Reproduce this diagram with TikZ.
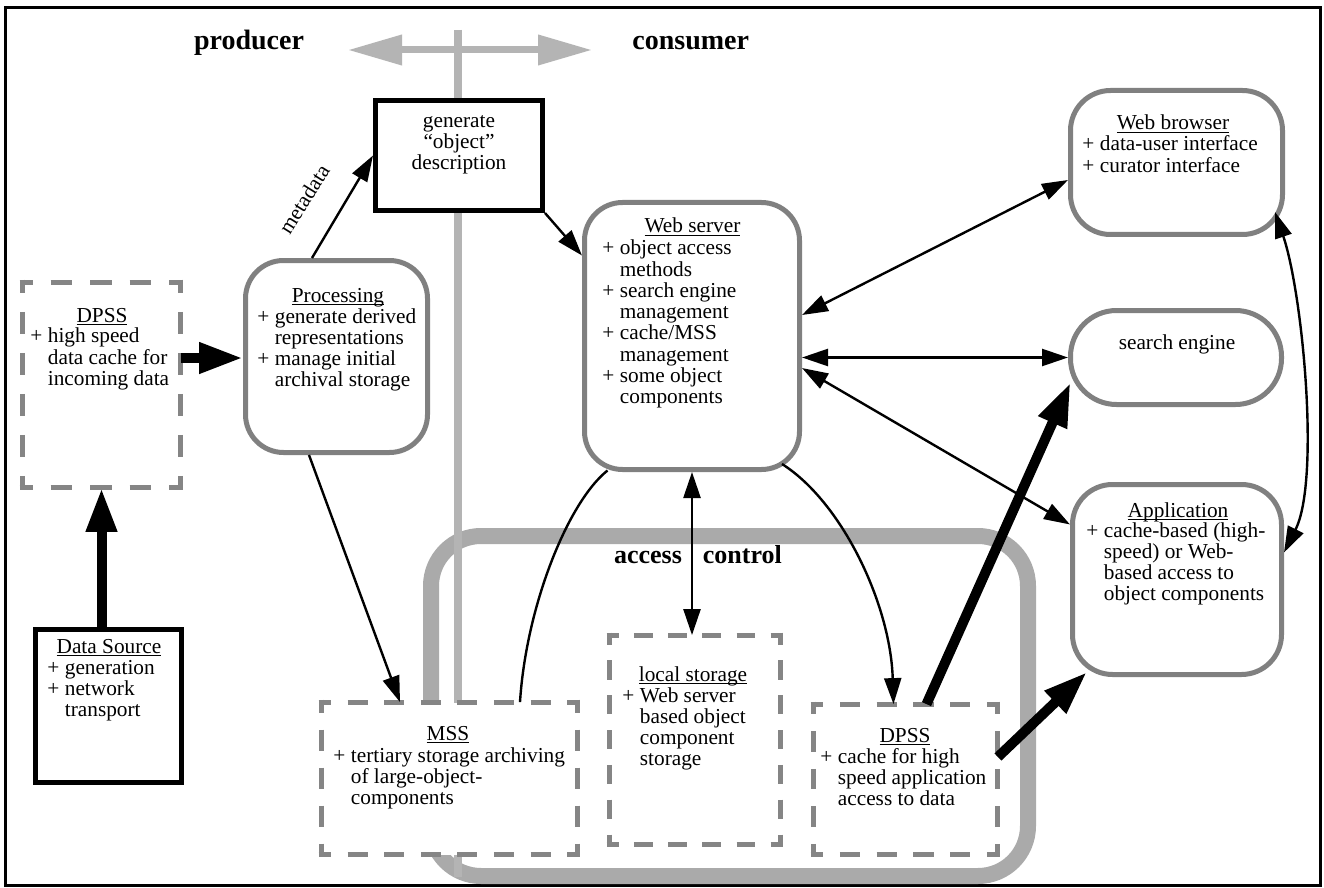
\documentclass[tikz,border=0pt]{standalone}
\usepackage{fontspec}
\setmainfont{Liberation Serif}
\usetikzlibrary{arrows.meta,calc}
\definecolor{boxgray}{HTML}{808080}
\definecolor{dashgray}{HTML}{858585}
\definecolor{accgray}{HTML}{AAAAAA}
\definecolor{axisgray}{HTML}{B4B4B4}
\newcommand\pl{\makebox[8.75pt][l]{+}}
\newcommand\ind{\hspace*{8.75pt}}
\newcommand\ul[1]{\underline{\smash{#1}}}
\newcommand\bodyfont{\fontsize{10.65pt}{10.625pt}\selectfont}
\newcommand\dframe[7]{%
  \draw[dside={#2}{#3}{#4}] (#1.north west) -- (#1.north east);
  \draw[dside={#2}{#3}{#4}] (#1.south west) -- (#1.south east);
  \draw[dside={#5}{#6}{#7}] (#1.north west) -- (#1.south west);
  \draw[dside={#5}{#6}{#7}] (#1.north east) -- (#1.south east);}
\begin{document}
\begin{tikzpicture}[x=0.5pt,y=-0.5pt,
  rbox/.style={draw=boxgray, line width=2.5pt, fill=white, inner sep=0pt, rounded corners=#1},
  rbox/.default=19pt,
  bbox/.style={draw=black, line width=2.5pt, fill=white, inner sep=0pt},
  dbox/.style={fill=white, inner sep=0pt},
  dside/.style n args={3}{draw=dashgray, line width=2.5pt, dash pattern=on #1pt off #2pt, dash phase=#3pt, shorten <=-1.25pt, shorten >=-1.25pt},
  ttl/.style={font=\bodyfont, inner sep=0pt, anchor=base},
  body/.style={font=\bodyfont, inner sep=0pt, anchor=base west},
  head/.style={font=\fontsize{14pt}{16pt}\selectfont\bfseries, inner sep=0pt},
  conn/.style={line width=1.2pt, >={Triangle[length=13pt,width=8.5pt]}},
  fat/.style={line width=5pt, -{Triangle[length=22pt,width=14.5pt]}},
  ]
\useasboundingbox (0,0) rectangle (1324,888);
\fill[white] (0,0) rectangle (1324,888);
\draw[line width=1.5pt] (5,8) rectangle (1320.5,885);

% background structure
\draw[accgray, line width=8pt, rounded corners=25pt] (431,536) rectangle (1028,876);
\draw[axisgray, line width=3.75pt] (458,30) -- (458,877);
\draw[axisgray, line width=3.5pt, {Triangle[length=27pt,width=14.5pt]}-{Triangle[length=27pt,width=14.5pt]}] (348,50) -- (592,50);

% boxes
\node[bbox, minimum width=83.5pt, minimum height=55pt] (gen) at (459,155.5) {};
\node[bbox, minimum width=73pt, minimum height=76.5pt] (ds) at (108.5,706) {};
\node[dbox, minimum width=79pt, minimum height=102.5pt] (dpssL) at (101.5,385) {};
\node[rbox, minimum width=91pt, minimum height=96pt] (proc) at (336.5,356.5) {};
\node[rbox, minimum width=107.5pt, minimum height=133.5pt] (ws) at (692,336) {};
\node[rbox=20pt, minimum width=106pt, minimum height=72pt] (wb) at (1176.5,162.5) {};
\node[rbox=23pt, minimum width=105.5pt, minimum height=47pt] (se) at (1176,357.5) {};
\node[rbox=20pt, minimum width=104.5pt, minimum height=95pt] (app) at (1177,579.5) {};
\node[dbox, minimum width=128pt, minimum height=76pt] (mss) at (449.5,778.5) {};
\node[dbox, minimum width=85.5pt, minimum height=104.5pt] (loc) at (695,740) {};
\node[dbox, minimum width=92pt, minimum height=75pt] (dpssR) at (905.5,779.5) {};

\dframe{dpssL}{10.86}{8.89}{4.18}{11.28}{9.22}{4.39}
\dframe{mss}{10.06}{8.23}{3.78}{10.45}{8.55}{3.98}
\dframe{loc}{9.41}{7.69}{3.45}{9.58}{7.84}{3.54}
\dframe{dpssR}{10.12}{8.28}{3.81}{10.31}{8.44}{3.91}

% headings
\node[head, anchor=base] (prod) at (249,50) {producer};
\node[head, anchor=base west] (cons) at (632,50) {consumer};
\node[font=\fontsize{13pt}{15pt}\selectfont\bfseries, inner sep=0pt, anchor=base] (acc) at (698,563) {access\hspace*{10.5pt}control};

% texts
\node[ttl] (genT) at (459,128) {{\renewcommand\arraystretch{0.94}\begin{tabular}[t]{@{}c@{}}generate\\“object”\\description\end{tabular}}};

\node[ttl] (dsT) at (109,653) {\ul{Data Source}};
\node[body] (dsB) at (47,674) {\begin{tabular}[t]{@{}l@{}}\pl generation\\\pl network\\\ind transport\end{tabular}};

\node[ttl] (dpssLT) at (102,322) {\ul{DPSS}};
\node[body] (dpssLB) at (30,343) {\begin{tabular}[t]{@{}l@{}}\pl high speed\\\ind data cache for\\\ind incoming data\end{tabular}};

\node[ttl] (procT) at (338,302) {\ul{Processing}};
\node[body] (procB) at (257,323) {\begin{tabular}[t]{@{}l@{}}\pl generate derived\\\ind representations\\\pl manage initial\\\ind archival storage\end{tabular}};

\node[ttl] (wsT) at (692.5,233) {\ul{Web server}};
\node[body] (wsB) at (602,255) {\begin{tabular}[t]{@{}l@{}}\pl object access\\\ind methods\\\pl search engine\\\ind management\\\pl cache/MSS\\\ind management\\\pl some object\\\ind components\end{tabular}};

\node[ttl] (wbT) at (1173,130) {\ul{Web browser}};
\node[body] (wbB) at (1082,151) {\begin{tabular}[t]{@{}l@{}}\pl data-user interface\\\pl curator interface\end{tabular}};

\node[ttl] (seT) at (1177,349) {search engine};

\node[ttl] (appT) at (1178,517) {\ul{Application}};
\node[body] (appB) at (1086,537) {\begin{tabular}[t]{@{}l@{}}\pl cache-based (high-\\\ind speed) or Web-\\\ind based access to\\\ind object components\end{tabular}};

\node[ttl] (mssT) at (448,740) {\ul{MSS}};
\node[body] (mssB) at (333,762) {\begin{tabular}[t]{@{}l@{}}\pl tertiary storage archiving\\\ind of large-object-\\\ind components\end{tabular}};

\node[ttl] (locT) at (693,681) {\ul{local storage}};
\node[body] (locB) at (622,702) {\begin{tabular}[t]{@{}l@{}}\pl Web server\\\ind based object\\\ind component\\\ind storage\end{tabular}};

\node[ttl] (dpssRT) at (905,742) {\ul{DPSS}};
\node[body] (dpssRB) at (820,763) {\begin{tabular}[t]{@{}l@{}}\pl cache for high\\\ind speed application\\\ind access to data\end{tabular}};

\node[font=\bodyfont, inner sep=0pt, rotate=58] (meta) at (304,199) {metadata};

% connectors
\draw[fat] ($(dpssL.east)+(0,-27)$) -- ($(proc.west)+(0,1.5)$);
\draw[fat] (ds.north -| dpssL.south) -- (dpssL.south);
\draw[conn,->] ($(proc.north)+(-24.5,0)$) -- (gen.west);
\draw[conn,->] (gen.south east) -- ($(ws.north west)+(0,55.5)$);
\draw[conn,->] ($(proc.south)+(-27.5,0)$) -- ($(mss.north)+(-49.5,0)$);
\draw[conn] ($(mss.north)+(70.5,0)$) .. controls +(6,-95) and +(-40,32) .. ($(ws.south west)+(25.5,-1.5)$);
\draw[conn,<->] (ws.south) -- (ws.south |- loc.north);
\draw[conn,->] ($(ws.south east)+(-20,-8)$) .. controls +(60,38) and +(-3,-100) .. ($(dpssR.north)+(-12,0)$);
\draw[fat] ($(dpssR.north)+(21,0)$) -- ($(se.south west)+(2.5,-24.5)$);
\draw[fat] ($(dpssR.east)+(0,-22.5)$) -- ($(app.south west)+(17,-5)$);
\draw[conn,<->] ($(ws.east)+(0,-21)$) -- ($(wb.west)+(0,17.5)$);
\draw[conn,<->] (ws.east |- se.west) -- (se.west);
\draw[conn,<->] ($(ws.east)+(0,32)$) -- ($(app.north west)+(0,42.5)$);
\draw[conn,<->] ($(app.east)+(0,-27)$) .. controls +(36.5,-72.5) and +(27.5,80.5) .. ($(wb.south east)+(-10,-25)$);
\end{tikzpicture}
\end{document}
